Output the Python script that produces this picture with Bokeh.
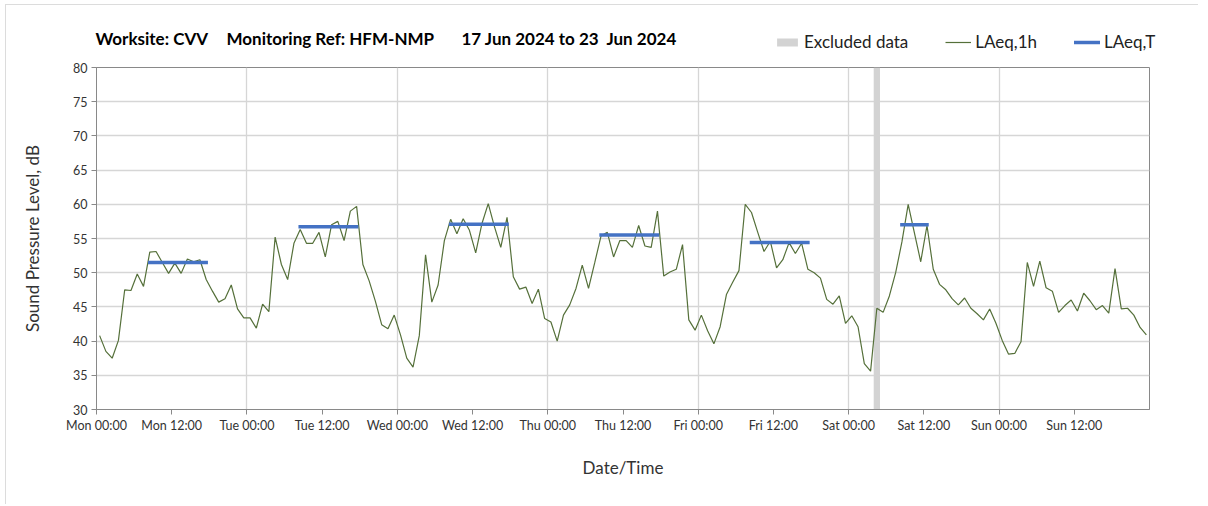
from bokeh.plotting import figure
from bokeh.layouts import column
from bokeh.models import Legend, LegendItem, FixedTicker, Range1d, Label
from bokeh.embed import file_html
from bokeh.resources import INLINE

# ---- data ----
hours = list(range(168))  # hour index from Mon 00:00
laeq_1h = [
    40.8, 38.5, 37.5, 40.1, 47.5, 47.4, 49.8, 48.0, 53.0, 53.1,
    51.5, 49.9, 51.4, 49.9, 52.0, 51.6, 51.9, 49.0, 47.3, 45.7,
    46.2, 48.2, 44.7, 43.4, 43.4, 41.9, 45.4, 44.3, 55.2, 51.2,
    49.0, 54.3, 56.3, 54.3, 54.3, 55.9, 52.3, 57.0, 57.5, 54.7,
    59.0, 59.7, 51.2, 48.8, 45.8, 42.4, 41.8, 43.8, 40.9, 37.5,
    36.2, 40.8, 52.6, 45.7, 48.2, 54.7, 57.8, 55.7, 57.9, 56.2,
    52.9, 57.2, 60.1, 56.7, 53.7, 58.1, 49.4, 47.6, 47.9, 45.5,
    47.6, 43.3, 42.8, 40.0, 43.8, 45.3, 47.7, 51.1, 47.7, 51.5,
    55.4, 55.9, 52.3, 54.7, 54.7, 53.7, 56.9, 53.9, 53.7, 59.0,
    49.5, 50.1, 50.5, 54.1, 43.1, 41.6, 43.8, 41.5, 39.6, 42.1,
    46.8, 48.6, 50.3, 60.0, 58.8, 55.9, 53.1, 54.6, 50.7, 51.9,
    54.4, 52.8, 54.3, 50.5, 50.0, 49.2, 46.1, 45.4, 46.6, 42.6,
    43.7, 42.1, 36.7, 35.6, 44.8, 44.2, 46.6, 50.0, 54.5, 60.0,
    55.8, 51.6, 56.9, 50.5, 48.3, 47.5, 46.2, 45.3, 46.3, 44.8,
    44.0, 43.1, 44.7, 42.6, 40.1, 38.1, 38.2, 39.9, 51.5, 48.0,
    51.7, 47.8, 47.3, 44.2, 45.2, 46.0, 44.4, 47.0, 45.9, 44.6,
    45.2, 44.1, 50.6, 44.7, 44.8, 43.8, 42.0, 40.9,
]
period_start = [8, 32, 56, 80, 104, 128]
period_end = [17, 41, 65, 89, 113, 132]
laeq_t = [51.5, 56.7, 57.1, 55.5, 54.4, 57.0]
excluded_start = [124]
excluded_end = [125]
tick_hours = list(range(0, 168, 12))
tick_labels = ["Mon 00:00", "Mon 12:00", "Tue 00:00", "Tue 12:00", "Wed 00:00",
               "Wed 12:00", "Thu 00:00", "Thu 12:00", "Fri 00:00", "Fri 12:00",
               "Sat 00:00", "Sat 12:00", "Sun 00:00", "Sun 12:00"]
day_hours = list(range(24, 168, 24))
y_min, y_max = 30, 80
title_parts = ["Worksite: CVV", "Monitoring Ref: HFM-NMP", "17 Jun 2024 to 23\u00a0 Jun 2024"]
legend_labels = ["Excluded data", "LAeq,1h", "LAeq,T"]

FONT = "Lato"
GREEN = "#55703a"
BLUE = "#4472c4"
BAND = "#d3d3d3"
OX, OY = 6, 5          # content offset inside the light outer border
W = 1192
HEAD_H = 56 - OY
ML, MR = 96 - OX, 1198 - 1149
EXTRA_BOTTOM = 14
hour_x = [h + 0.5 for h in hours]
seg_x0 = [s + 0.5 for s in period_start]
seg_x1 = [e + 0.5 for e in period_end]


def add_series(fig):
    b = fig.quad(left=excluded_start, right=excluded_end,
                 bottom=[y_min] * len(excluded_start), top=[y_max] * len(excluded_start),
                 fill_color=BAND, line_color=None)
    l = fig.line(hour_x, laeq_1h, line_color=GREEN, line_width=1.2)
    s = fig.segment(x0=seg_x0, x1=seg_x1, y0=laeq_t, y1=laeq_t,
                    line_color=BLUE, line_width=3.5, line_cap="square")
    return [b, l, s]


# ---- header (title + legend); its series lie outside its view, only keyed ----
head = figure(width=W, height=HEAD_H, output_backend="svg", toolbar_location=None,
              x_range=Range1d(0, 168), y_range=Range1d(0, 1),
              x_axis_type=None, y_axis_type=None,
              min_border_left=0, min_border_right=0, min_border_top=0,
              min_border_bottom=0)
head.frame_align = False
head.grid.visible = False
head.outline_line_color = None
for t, x in zip(title_parts, [95, 226, 461]):
    head.add_layout(Label(x=x - OX, y=HEAD_H - (38 - OY), x_units="screen", y_units="screen",
                          text=t, text_baseline="middle",
                          text_font=FONT, text_font_style="bold",
                          text_font_size="17px", text_color="#000000"))
keyed = add_series(head)
legend = Legend(items=[LegendItem(label=lab, renderers=[r]) for lab, r in
                       zip(legend_labels, keyed)],
                orientation="horizontal", location=(774 - OX, 4),
                glyph_width=26, glyph_height=10, label_standoff=4, spacing=37,
                padding=0, margin=0, border_line_alpha=0, background_fill_alpha=0,
                label_text_font=FONT, label_text_font_size="17px",
                label_text_color="#222222")
head.add_layout(legend)

# ---- main chart ----
p = figure(width=W, height=490 - 56 + EXTRA_BOTTOM, output_backend="svg",
           toolbar_location=None,
           x_range=Range1d(0, 168), y_range=Range1d(y_min, y_max),
           min_border_left=ML, min_border_right=MR, min_border_top=11,
           min_border_bottom=81 + EXTRA_BOTTOM)
p.frame_align = False
p.outline_line_color = "#898989"
p.outline_line_width = 1

p.xaxis.ticker = FixedTicker(ticks=tick_hours)
p.xaxis.major_label_overrides = {h: l for h, l in zip(tick_hours, tick_labels)}
p.yaxis.ticker = FixedTicker(ticks=list(range(y_min, y_max + 1, 5)))
p.xgrid.ticker = FixedTicker(ticks=day_hours)
p.ygrid.ticker = FixedTicker(ticks=list(range(y_min + 5, y_max, 5)))
p.grid.grid_line_color = "#d6d6d6"
p.grid.grid_line_width = 1.3

for ax in (p.xaxis[0], p.yaxis[0]):
    ax.axis_line_color = "#898989"
    ax.major_tick_line_color = "#898989"
    ax.minor_tick_line_color = None
    ax.major_tick_in = 0
    ax.major_tick_out = 5
    ax.major_label_text_font = FONT
    ax.major_label_text_font_size = "12.5px"
    ax.major_label_text_color = "#333333"
    ax.axis_label_text_font = FONT
    ax.axis_label_text_font_size = "17px"
    ax.axis_label_text_font_style = "normal"
    ax.axis_label_text_color = "#333333"

p.xaxis.axis_label = "Date/Time"
p.yaxis.axis_label = "Sound Pressure Level, dB"
p.xaxis.major_label_standoff = 3
p.xaxis.axis_label_standoff = 21
p.yaxis.major_label_standoff = 4
p.yaxis.axis_label_standoff = 27

add_series(p)

layout = column(head, p, spacing=0, margin=(OY - 1, 0, 0, OX - 1),
                styles={"border-left": "1px solid #dcdcdc",
                        "border-top": "1px solid #dcdcdc"})
open("out.html", "w").write(file_html(layout, INLINE))
